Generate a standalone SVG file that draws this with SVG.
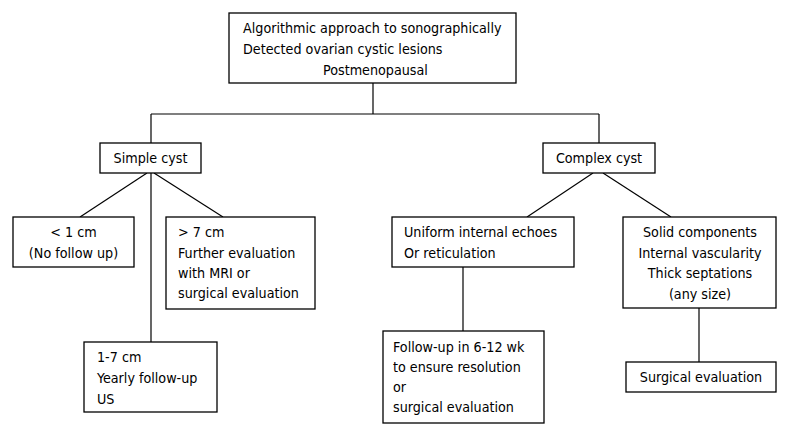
<svg xmlns="http://www.w3.org/2000/svg" width="787" height="434" viewBox="0 0 787 434">
<style>
.box{fill:#fff;stroke:#000;stroke-width:1.3}
.ln{stroke:#000;stroke-width:1.2;fill:none}
text{font-family:"DejaVu Sans Condensed","DejaVu Sans",Verdana,sans-serif;font-size:14.2px;fill:#000}
.c{text-anchor:middle}
</style>
<rect width="787" height="434" fill="#fff"/>
<g id="connectors">
<line class="ln" x1="373" y1="83" x2="373" y2="114"/>
<line class="ln" x1="151" y1="114" x2="599" y2="114"/>
<line class="ln" x1="151" y1="114" x2="151" y2="143"/>
<line class="ln" x1="599" y1="114" x2="599" y2="143"/>
<line class="ln" x1="147" y1="173" x2="80" y2="217"/>
<line class="ln" x1="154" y1="173" x2="223" y2="217"/>
<line class="ln" x1="151" y1="173" x2="151" y2="342"/>
<line class="ln" x1="593" y1="173" x2="527" y2="217"/>
<line class="ln" x1="603" y1="173" x2="671" y2="217"/>
<line class="ln" x1="463" y1="267" x2="463" y2="331"/>
<line class="ln" x1="699" y1="308" x2="699" y2="362"/>
</g>
<g id="root">
<rect class="box" x="229" y="13" width="287" height="70"/>
<text x="243" y="33">Algorithmic approach to sonographically</text>
<text x="243" y="54">Detected ovarian cystic lesions</text>
<text x="323" y="75">Postmenopausal</text>
</g>
<g id="simple">
<rect class="box" x="100" y="143" width="101" height="30"/>
<text class="c" x="150.5" y="163">Simple cyst</text>
</g>
<g id="lt1">
<rect class="box" x="13" y="217" width="121" height="50"/>
<text class="c" x="73.5" y="237">&lt; 1 cm</text>
<text class="c" x="73.5" y="258">(No follow up)</text>
</g>
<g id="gt7">
<rect class="box" x="166" y="217" width="149" height="92"/>
<text x="178" y="237">&gt; 7 cm</text>
<text x="178" y="258">Further evaluation</text>
<text x="178" y="278">with MRI or</text>
<text x="178" y="298">surgical evaluation</text>
</g>
<g id="mid">
<rect class="box" x="84" y="342" width="133" height="70"/>
<text x="97" y="362">1-7 cm</text>
<text x="97" y="383">Yearly follow-up</text>
<text x="97" y="404">US</text>
</g>
<g id="complex">
<rect class="box" x="543" y="143" width="112" height="30"/>
<text class="c" x="599" y="163">Complex cyst</text>
</g>
<g id="uniform">
<rect class="box" x="392" y="217" width="182" height="50"/>
<text x="404" y="237">Uniform internal echoes</text>
<text x="404" y="258">Or reticulation</text>
</g>
<g id="solid">
<rect class="box" x="623" y="217" width="153" height="91"/>
<text class="c" x="700" y="237">Solid components</text>
<text class="c" x="700" y="258">Internal vascularity</text>
<text class="c" x="700" y="278">Thick septations</text>
<text class="c" x="700" y="299">(any size)</text>
</g>
<g id="followup">
<rect class="box" x="383" y="331" width="161" height="92"/>
<text x="393" y="352">Follow-up in 6-12 wk</text>
<text x="393" y="372">to ensure resolution</text>
<text x="393" y="392">or</text>
<text x="393" y="412">surgical evaluation</text>
</g>
<g id="surgical">
<rect class="box" x="626" y="362" width="150" height="30"/>
<text class="c" x="701" y="382">Surgical evaluation</text>
</g>
</svg>
